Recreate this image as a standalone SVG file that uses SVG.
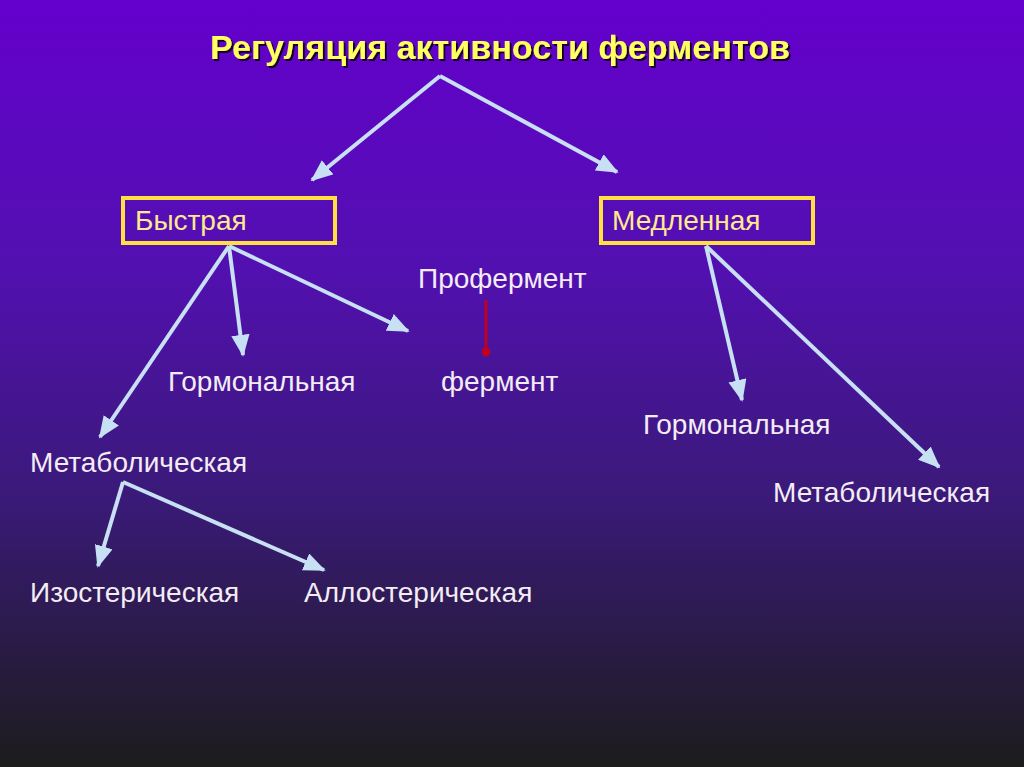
<svg xmlns="http://www.w3.org/2000/svg" width="1024" height="767" viewBox="0 0 1024 767">
<defs>
<linearGradient id="bg" x1="0" y1="0" x2="0" y2="1">
<stop offset="0" stop-color="#6400cc"/>
<stop offset="0.35" stop-color="#5210b0"/>
<stop offset="0.65" stop-color="#3a1a78"/>
<stop offset="1" stop-color="#1c1c1c"/>
</linearGradient>
<marker id="ah" viewBox="0 0 12 10" refX="11" refY="5" markerWidth="5.5" markerHeight="4.6" orient="auto" markerUnits="strokeWidth">
<path d="M0,0 L12,5 L0,10 z" fill="#c8e0f4"/>
</marker>
<marker id="rh" viewBox="0 0 10 10" refX="5" refY="5" markerWidth="3" markerHeight="3" orient="auto" markerUnits="strokeWidth">
<circle cx="5" cy="5" r="5" fill="#c00020"/>
</marker>
<filter id="sh" x="-5%" y="-20%" width="110%" height="140%">
<feDropShadow dx="2" dy="2" stdDeviation="0.5" flood-color="#000" flood-opacity="0.8"/>
</filter>
</defs>
<style>
.t{font-family:"Liberation Sans",Arial,sans-serif;font-size:28px;fill:#f4ecf4}
.bx{fill:none;stroke:#ffe040;stroke-width:4}
.bt{font-family:"Liberation Sans",Arial,sans-serif;font-size:28px;fill:#ffe890}
.c{stroke:#c8e0f4;stroke-width:4;fill:none;marker-end:url(#ah)}
</style>
<rect x="0" y="0" width="1024" height="767" fill="url(#bg)"/>
<g id="title"><text x="500" y="59" text-anchor="middle" font-family="Liberation Sans,Arial,sans-serif" font-weight="bold" font-size="33" fill="#ffff60" filter="url(#sh)" textLength="580" lengthAdjust="spacingAndGlyphs">Регуляция активности ферментов</text></g>
<g id="connectors">
<line class="c" x1="440" y1="76" x2="312" y2="180"/>
<line class="c" x1="440" y1="76" x2="617" y2="172"/>
<line class="c" x1="229" y1="246" x2="100" y2="437"/>
<line class="c" x1="229" y1="246" x2="243" y2="355"/>
<line class="c" x1="229" y1="246" x2="408" y2="331"/>
<line class="c" x1="706" y1="246" x2="742" y2="400"/>
<line class="c" x1="706" y1="246" x2="939" y2="467"/>
<line class="c" x1="123" y1="482" x2="98" y2="566"/>
<line class="c" x1="123" y1="482" x2="324" y2="570"/>
<line x1="486" y1="300" x2="486" y2="352" stroke="#c00020" stroke-width="3" marker-end="url(#rh)"/>
</g>
<g id="fast"><rect class="bx" x="123" y="198" width="212" height="45"/><text class="bt" x="135" y="230">Быстрая</text></g>
<g id="slow"><rect class="bx" x="601" y="198" width="212" height="45"/><text class="bt" x="612" y="230">Медленная</text></g>
<g id="proferment"><text class="t" x="418" y="288">Профермент</text></g>
<g id="ferment"><text class="t" x="441" y="391">фермент</text></g>
<g id="hormonal1"><text class="t" x="168" y="391">Гормональная</text></g>
<g id="hormonal2"><text class="t" x="643" y="434">Гормональная</text></g>
<g id="metabolic1"><text class="t" x="30" y="472">Метаболическая</text></g>
<g id="metabolic2"><text class="t" x="773" y="502">Метаболическая</text></g>
<g id="isosteric"><text class="t" x="30" y="602">Изостерическая</text></g>
<g id="allosteric"><text class="t" x="304" y="602">Аллостерическая</text></g>
</svg>
